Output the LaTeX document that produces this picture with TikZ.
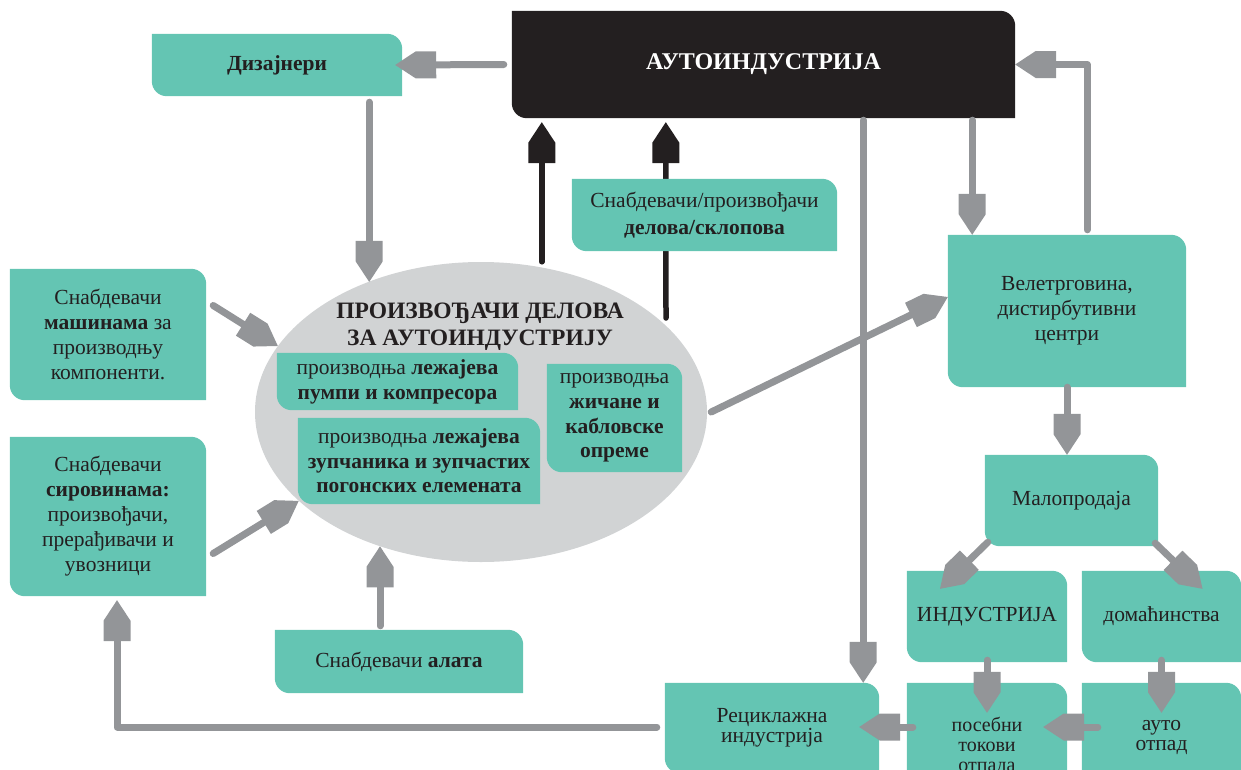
\documentclass[tikz,border=0pt]{standalone}
\usepackage{fontspec}
\setmainfont{Liberation Serif}
\usetikzlibrary{arrows.meta,shapes.geometric,fit,calc}
\definecolor{boxteal}{RGB}{100,197,179}
\definecolor{arrgray}{RGB}{147,149,152}
\definecolor{ellgray}{RGB}{209,211,212}
\definecolor{inkblack}{RGB}{35,31,32}
\pgfdeclarelayer{ellayer}
\pgfdeclarelayer{under}
\pgfdeclarelayer{boxbg}
\pgfsetlayers{ellayer,under,boxbg,main}

\pgfdeclarearrow{
  name = Pencil,
  parameters = {\the\pgfarrowlength,\the\pgfarrowwidth},
  setup code = {
    \pgfarrowssettipend{0pt}
    \pgfarrowssetlineend{-.5\pgfarrowlength}
    \pgfarrowssetbackend{-\pgfarrowlength}
    \pgfarrowsupperhullpoint{0pt}{0pt}
    \pgfarrowsupperhullpoint{-\pgfarrowlength}{.5\pgfarrowwidth}
    \pgfarrowssavethe\pgfarrowlength
    \pgfarrowssavethe\pgfarrowwidth
  },
  drawing code = {
    \pgfpathmoveto{\pgfpointorigin}
    \pgfpathlineto{\pgfpoint{-.5\pgfarrowlength}{.5\pgfarrowwidth}}
    \pgfpathlineto{\pgfpoint{-\pgfarrowlength}{.5\pgfarrowwidth}}
    \pgfpathlineto{\pgfpoint{-\pgfarrowlength}{-.5\pgfarrowwidth}}
    \pgfpathlineto{\pgfpoint{-.5\pgfarrowlength}{-.5\pgfarrowwidth}}
    \pgfpathclose
    \pgfusepathqfill
  },
  defaults = {length = 41pt, width = 27pt}
}

\tikzset{
  garr/.style={line width=7pt, color=arrgray, line cap=round, line join=round, -{Pencil}},
  barr/.style={line width=5.5pt, color=inkblack, line cap=round, -{Pencil}},
  boxframe/.style={inner sep=0pt},
  boxtext/.style={inner sep=0pt, align=center, text=inkblack, font=\fontsize{21.5}{25}\selectfont},
}

% #1 text options, #2 fill colour, #3 name, #4 #5 corners, #6 text
\newcommand\leafbox[6][]{%
  \node[boxframe,fit={#4 #5}] (#3) {};
  \node[boxtext,#1] (#3-t) at (#3.center) {#6};
  \begin{pgfonlayer}{boxbg}
    \fill[#2] (#3.north west) -- ([xshift=-15pt]#3.north east)
      arc[start angle=90,end angle=0,radius=15pt] -- (#3.south east)
      -- ([xshift=15pt]#3.south west)
      arc[start angle=270,end angle=180,radius=15pt] -- cycle;
  \end{pgfonlayer}}

\begin{document}
\begin{tikzpicture}[x=1pt,y=1pt]
\path[use as bounding box] (0,0) rectangle (1241,-769);

% ellipse
\begin{pgfonlayer}{ellayer}
  \node[ellipse, fill=ellgray, minimum width=452pt, minimum height=300pt, inner sep=0pt] (ell) at (481,-412) {};
\end{pgfonlayer}
\node[font=\fontsize{23.5}{27}\selectfont\bfseries, align=center, text=inkblack, inner sep=0pt] (ttl) at (480,-327) {ПРОИЗВОЂАЧИ ДЕЛОВА\\ЗА АУТОИНДУСТРИЈУ};

% boxes
\leafbox[text=white,font=\fontsize{24}{26}\selectfont\bfseries]{inkblack}{blk}{(512,-11)}{(1015,-118)}{АУТОИНДУСТРИЈА}
\leafbox[font=\fontsize{21.5}{25}\selectfont\bfseries]{boxteal}{diz}{(152,-34)}{(402,-96)}{Дизајнери}
\leafbox[font=\fontsize{21.5}{27}\selectfont]{boxteal}{sup}{(572,-179)}{(837,-251)}{Снабдевачи/произвођачи\\\textbf{делова/склопова}}
\leafbox{boxteal}{in1}{(277,-353)}{(518,-410)}{производња \textbf{лежајева}\\\textbf{пумпи и компресора}}
\leafbox[font=\fontsize{21.5}{24.5}\selectfont]{boxteal}{in2}{(298,-418)}{(540,-504)}{производња \textbf{лежајева}\\\textbf{зупчаника и зупчастих}\\\textbf{погонских елемената}}
\leafbox[font=\fontsize{21.5}{24.7}\selectfont]{boxteal}{in3}{(547,-364)}{(682,-472)}{производња\\\textbf{жичане и}\\\textbf{кабловске}\\\textbf{опреме}}
\leafbox{boxteal}{mas}{(10,-269)}{(206,-400)}{Снабдевачи\\\textbf{машинама} за\\производњу\\компоненти.}
\leafbox{boxteal}{sir}{(10,-437)}{(206,-596)}{Снабдевачи\\\textbf{сировинама:}\\произвођачи,\\прерађивачи и\\увозници}
\leafbox{boxteal}{ala}{(275,-630)}{(523,-693)}{Снабдевачи \textbf{алата}}
\leafbox{boxteal}{vel}{(948,-235)}{(1186,-387)}{Велетрговина,\\дистирбутивни\\центри}
\leafbox{boxteal}{malo}{(985,-455)}{(1158,-546)}{Малопродаја}
\leafbox{boxteal}{ind}{(907,-571)}{(1067,-662)}{ИНДУСТРИЈА}
\leafbox{boxteal}{dom}{(1082,-571)}{(1241,-662)}{домаћинства}
\leafbox[font=\fontsize{21.5}{20}\selectfont]{boxteal}{rec}{(665,-683)}{(879,-773)}{Рециклажна\\индустрија}
\leafbox[font=\fontsize{20}{20}\selectfont]{boxteal}{pos}{(907,-683)}{(1067,-809)}{посебни\\токови\\отпада}
\leafbox[font=\fontsize{21.5}{20}\selectfont]{boxteal}{auto}{(1082,-683)}{(1241,-791)}{ауто\\отпад}

% black arrows (behind boxes)
\coordinate (b1) at ([xshift=30pt,yshift=-4pt]blk.south west);
\coordinate (b2) at ([xshift=154pt,yshift=-4pt]blk.south west);
\coordinate (b2s) at (666,-318);
\begin{pgfonlayer}{under}
  \draw[barr] (b1 |- ell.north) -- (b1);
  \draw[barr] (b2s) -- (b2);
\end{pgfonlayer}

% gray arrows
\draw[garr] ([xshift=-8pt]blk.west) -- ([xshift=-7pt]diz.east);
\coordinate (d1) at ([xshift=-33pt,yshift=-6pt]diz.south east);
\draw[garr] (d1) -- (d1 |- ell.131);
\draw[garr] ([xshift=7pt,yshift=29pt]mas.east) -- (ell.162);
\draw[garr] ([xshift=7pt,yshift=-37pt]sir.east) -- (ell.206);
\coordinate (a5) at ([xshift=-19pt,yshift=4pt]ala.north);
\draw[garr] (a5) -- (a5 |- ell.233);
\draw[garr] ([xshift=4pt]ell.east) -- ([yshift=14pt]vel.west);
\coordinate (v7) at ([xshift=-43pt,yshift=-2pt]blk.south east);
\draw[garr] (v7) -- (v7 |- vel.north);
\draw[garr] ([xshift=-99pt,yshift=5pt]vel.north east) |- (blk.east);
\coordinate (r9) at ([xshift=-152pt,yshift=-2pt]blk.south east);
\draw[garr] (r9) -- (r9 |- rec.north);
\draw[garr] (vel.south) -- (vel.south |- malo.north);
\draw[garr] ([xshift=3pt,yshift=4pt]malo.south west) -- ([xshift=-47pt,yshift=-18pt]ind.north);
\draw[garr] ([xshift=-3pt,yshift=3pt]malo.south east) -- ([xshift=41pt,yshift=-18pt]dom.north);
\draw[garr] ([yshift=2pt]ind.south) -- ([yshift=-30pt]pos.north);
\draw[garr] ([yshift=2pt]dom.south) -- ([yshift=-30pt]auto.north);
\draw[garr] ([xshift=16pt,yshift=10pt]auto.west) -- ([xshift=-24pt,yshift=19pt]pos.east);
\draw[garr] ([xshift=6pt,yshift=19pt]pos.west) -- ([xshift=-20pt,yshift=1pt]rec.east);
\draw[garr] ([xshift=-8pt,yshift=1pt]rec.west) -| ([xshift=9pt,yshift=-4pt]sir.south);
\end{tikzpicture}
\end{document}
